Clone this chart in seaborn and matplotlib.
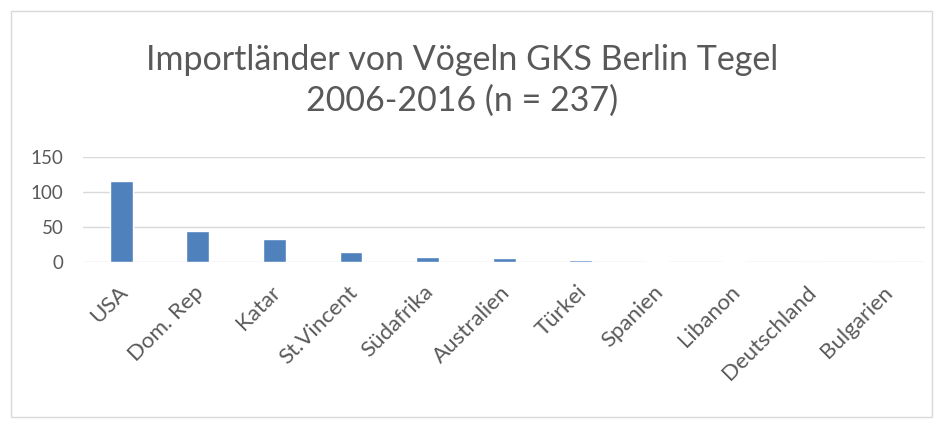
import pandas as pd
import seaborn as sns
import matplotlib.pyplot as plt
from matplotlib.patches import Rectangle
from matplotlib.transforms import ScaledTranslation

laender = ['USA', 'Dom. Rep', 'Katar', 'St.Vincent', 'Südafrika', 'Australien',
           'Türkei', 'Spanien', 'Libanon', 'Deutschland', 'Bulgarien']
anzahl = [116, 45, 33, 14, 7.5, 6, 3, 1.5, 1.5, 0.5, 0.5]

df = pd.DataFrame({'land': laender, 'anzahl': anzahl})

sns.set_style('white')
plt.rcParams['font.family'] = ['Lato', 'DejaVu Sans']
grau = '#595959'

fig = plt.figure(figsize=(9.44, 4.25), dpi=100)
ax = fig.add_axes([0.088, 0.3835, 0.892, 0.247])

sns.barplot(data=df, x='land', y='anzahl', color='#4F81BD', width=0.3,
            saturation=1, ax=ax)

ax.set_ylim(0, 150)
ax.set_yticks([0, 50, 100, 150])
ax.set_xlim(-0.5, len(laender) - 0.5)
ax.yaxis.grid(True, color='#D9D9D9', linewidth=1)
ax.set_axisbelow(True)
for s in ax.spines.values():
    s.set_visible(False)
ax.set_xlabel('')
ax.set_ylabel('')
ax.tick_params(axis='y', length=0, colors=grau, labelsize=13.5, pad=14)
ax.tick_params(axis='x', length=0, colors=grau, labelsize=16, pad=10)
verschub = ScaledTranslation(-0.04, -0.06, fig.dpi_scale_trans)
for t in ax.get_xticklabels():
    t.set_rotation(45)
    t.set_ha('right')
    t.set_rotation_mode('anchor')
    t.set_transform(t.get_transform() + verschub)

fig.text(0.49, 0.858, 'Importländer von Vögeln GKS Berlin Tegel', ha='center',
         va='center', fontsize=24.5, color=grau)
fig.text(0.49, 0.763, '2006-2016 (n = 237)', ha='center', va='center',
         fontsize=24.5, color=grau)

fig.patches.append(Rectangle((0.012, 0.02), 0.975, 0.955, transform=fig.transFigure,
                             fill=False, edgecolor='#D9D9D9', linewidth=1))

fig.savefig('out.png', dpi=100)
